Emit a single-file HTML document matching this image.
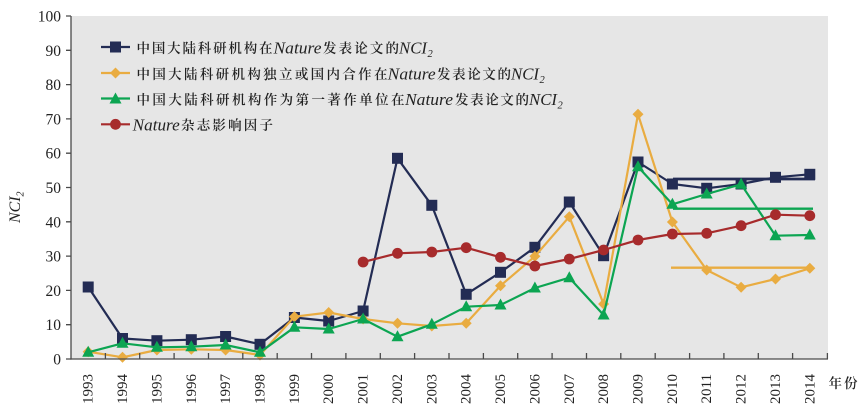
<!DOCTYPE html>
<html><head><meta charset="utf-8">
<style>
html,body{margin:0;padding:0;background:#fff;}
svg{display:block;}
.t{font-family:"Liberation Serif","Noto Serif CJK SC",serif;fill:#222;}
.c{font-family:"Noto Serif CJK SC","Noto Sans CJK SC",serif;fill:#222;font-weight:600;}
.i{font-family:"Liberation Serif",serif;font-style:italic;fill:#222;}
</style></head>
<body>
<svg width="862" height="418" viewBox="0 0 862 418" xmlns="http://www.w3.org/2000/svg">
<defs>
<rect id="sq" x="-5.5" y="-5.5" width="11" height="11" fill="#232c54"/>
<polygon id="dm" points="0,-5.5 5.5,0 0,5.5 -5.5,0" fill="#e9ac41"/>
<polygon id="tr" points="0,-6.5 6,4.5 -6,4.5" fill="#0ca552"/>
<circle id="ci" r="5.4" fill="#a72b2c"/>
</defs>
<rect x="71" y="16" width="757" height="343" fill="#e6e6e6"/>

<!-- legend -->
<line x1="101" y1="47" x2="130" y2="47" stroke="#232c54" stroke-width="2.2"/>
<use href="#sq" x="115.5" y="47"/>
<line x1="101" y1="73" x2="130" y2="73" stroke="#e9ac41" stroke-width="2.2"/>
<use href="#dm" x="115.5" y="73"/>
<line x1="101" y1="98.5" x2="130" y2="98.5" stroke="#0ca552" stroke-width="2.2"/>
<use href="#tr" x="115.5" y="99"/>
<line x1="101" y1="124.3" x2="130" y2="124.3" stroke="#a72b2c" stroke-width="2.2"/>
<use href="#ci" x="115.5" y="124.3"/>

<text class="c" x="136.5" y="53" font-size="13.5" textLength="136" lengthAdjust="spacing">中国大陆科研机构在</text>
<text class="i" x="273.5" y="53.3" font-size="17" textLength="48" lengthAdjust="spacingAndGlyphs">Nature</text>
<text class="c" x="323" y="53" font-size="13.5" textLength="76" lengthAdjust="spacing">发表论文的</text>
<text class="i" x="399" y="53.3" font-size="17" textLength="28" lengthAdjust="spacingAndGlyphs">NCI</text>
<text class="i" x="427.5" y="57" font-size="10.5">2</text>

<text class="c" x="136.5" y="79" font-size="13.5" textLength="251" lengthAdjust="spacing">中国大陆科研机构独立或国内合作在</text>
<text class="i" x="387.7" y="79.3" font-size="17" textLength="48" lengthAdjust="spacingAndGlyphs">Nature</text>
<text class="c" x="437" y="79" font-size="13.5" textLength="74" lengthAdjust="spacing">发表论文的</text>
<text class="i" x="511" y="79.3" font-size="17" textLength="28" lengthAdjust="spacingAndGlyphs">NCI</text>
<text class="i" x="539.5" y="83" font-size="10.5">2</text>

<text class="c" x="136.5" y="104.5" font-size="13.5" textLength="268" lengthAdjust="spacing">中国大陆科研机构作为第一著作单位在</text>
<text class="i" x="405" y="104.8" font-size="17" textLength="48" lengthAdjust="spacingAndGlyphs">Nature</text>
<text class="c" x="455" y="104.5" font-size="13.5" textLength="74" lengthAdjust="spacing">发表论文的</text>
<text class="i" x="529" y="104.8" font-size="17" textLength="28" lengthAdjust="spacingAndGlyphs">NCI</text>
<text class="i" x="557.5" y="108.5" font-size="10.5">2</text>

<text class="i" x="132.7" y="130.5" font-size="17" textLength="47" lengthAdjust="spacingAndGlyphs">Nature</text>
<text class="c" x="181" y="130.2" font-size="13.5" textLength="92" lengthAdjust="spacing">杂志影响因子</text>

<!-- trend lines -->
<line x1="673" y1="179" x2="815" y2="179" stroke="#232c54" stroke-width="2.8"/>
<line x1="673" y1="208.7" x2="813" y2="208.7" stroke="#0ca552" stroke-width="2.4"/>
<line x1="671" y1="267.7" x2="813" y2="267.7" stroke="#e9ac41" stroke-width="2.4"/>

<!-- navy series -->
<polyline fill="none" stroke="#232c54" stroke-width="2.2" stroke-linejoin="round" points="88.2,287 122.5,338.5 156.9,340.7 191.3,339.7 225.6,336.5 260,344.3 294.4,317.5 328.7,321 363.1,311 397.5,158.3 431.8,205.3 466.2,294.3 500.5,272.3 534.9,247.3 569.3,202 603.6,255.7 638,162 672.4,184 706.7,188.3 741.1,184 775.5,177.3 809.8,174.3"/>
<use href="#sq" x="88.2" y="287"/><use href="#sq" x="122.5" y="338.5"/><use href="#sq" x="156.9" y="340.7"/><use href="#sq" x="191.3" y="339.7"/><use href="#sq" x="225.6" y="336.5"/><use href="#sq" x="260" y="344.3"/><use href="#sq" x="294.4" y="317.5"/><use href="#sq" x="328.7" y="321"/><use href="#sq" x="363.1" y="311"/><use href="#sq" x="397.5" y="158.3"/><use href="#sq" x="431.8" y="205.3"/><use href="#sq" x="466.2" y="294.3"/><use href="#sq" x="500.5" y="272.3"/><use href="#sq" x="534.9" y="247.3"/><use href="#sq" x="569.3" y="202"/><use href="#sq" x="603.6" y="255.7"/><use href="#sq" x="638" y="162"/><use href="#sq" x="672.4" y="184"/><use href="#sq" x="706.7" y="188.3"/><use href="#sq" x="741.1" y="184"/><use href="#sq" x="775.5" y="177.3"/><use href="#sq" x="809.8" y="174.3"/>

<!-- orange series -->
<polyline fill="none" stroke="#e9ac41" stroke-width="2.2" stroke-linejoin="round" points="88.2,351.7 122.5,357.3 156.9,350 191.3,349.3 225.6,350 260,355 294.4,316.7 328.7,312.5 363.1,319 397.5,323.3 431.8,326 466.2,323.3 500.5,285.7 534.9,256.3 569.3,216.7 603.6,304 638,114.3 672.4,222 706.7,270 741.1,287.3 775.5,279 809.8,268.3"/>
<use href="#dm" x="88.2" y="351.7"/><use href="#dm" x="122.5" y="357.3"/><use href="#dm" x="156.9" y="350"/><use href="#dm" x="191.3" y="349.3"/><use href="#dm" x="225.6" y="350"/><use href="#dm" x="260" y="355"/><use href="#dm" x="294.4" y="316.7"/><use href="#dm" x="328.7" y="312.5"/><use href="#dm" x="363.1" y="319"/><use href="#dm" x="397.5" y="323.3"/><use href="#dm" x="431.8" y="326"/><use href="#dm" x="466.2" y="323.3"/><use href="#dm" x="500.5" y="285.7"/><use href="#dm" x="534.9" y="256.3"/><use href="#dm" x="569.3" y="216.7"/><use href="#dm" x="603.6" y="304"/><use href="#dm" x="638" y="114.3"/><use href="#dm" x="672.4" y="222"/><use href="#dm" x="706.7" y="270"/><use href="#dm" x="741.1" y="287.3"/><use href="#dm" x="775.5" y="279"/><use href="#dm" x="809.8" y="268.3"/>

<!-- green series -->
<polyline fill="none" stroke="#0ca552" stroke-width="2.2" stroke-linejoin="round" points="88.2,352.3 122.5,343.3 156.9,347.3 191.3,346.7 225.6,345 260,352.3 294.4,327.3 328.7,329 363.1,319 397.5,336.7 431.8,324.3 466.2,306.7 500.5,305 534.9,288 569.3,277.7 603.6,315 638,166.7 672.4,204.3 706.7,194 741.1,184.3 775.5,235.7 809.8,235"/>
<use href="#tr" x="88.2" y="352.3"/><use href="#tr" x="122.5" y="343.3"/><use href="#tr" x="156.9" y="347.3"/><use href="#tr" x="191.3" y="346.7"/><use href="#tr" x="225.6" y="345"/><use href="#tr" x="260" y="352.3"/><use href="#tr" x="294.4" y="327.3"/><use href="#tr" x="328.7" y="329"/><use href="#tr" x="363.1" y="319"/><use href="#tr" x="397.5" y="336.7"/><use href="#tr" x="431.8" y="324.3"/><use href="#tr" x="466.2" y="306.7"/><use href="#tr" x="500.5" y="305"/><use href="#tr" x="534.9" y="288"/><use href="#tr" x="569.3" y="277.7"/><use href="#tr" x="603.6" y="315"/><use href="#tr" x="638" y="166.7"/><use href="#tr" x="672.4" y="204.3"/><use href="#tr" x="706.7" y="194"/><use href="#tr" x="741.1" y="184.3"/><use href="#tr" x="775.5" y="235.7"/><use href="#tr" x="809.8" y="235"/>

<!-- red series -->
<polyline fill="none" stroke="#a72b2c" stroke-width="2.2" stroke-linejoin="round" points="363.1,262 397.5,253.3 431.8,252 466.2,247.7 500.5,257.3 534.9,266 569.3,259 603.6,250 638,240 672.4,234 706.7,233.3 741.1,225.7 775.5,214.7 809.8,215.7"/>
<use href="#ci" x="363.1" y="262"/><use href="#ci" x="397.5" y="253.3"/><use href="#ci" x="431.8" y="252"/><use href="#ci" x="466.2" y="247.7"/><use href="#ci" x="500.5" y="257.3"/><use href="#ci" x="534.9" y="266"/><use href="#ci" x="569.3" y="259"/><use href="#ci" x="603.6" y="250"/><use href="#ci" x="638" y="240"/><use href="#ci" x="672.4" y="234"/><use href="#ci" x="706.7" y="233.3"/><use href="#ci" x="741.1" y="225.7"/><use href="#ci" x="775.5" y="214.7"/><use href="#ci" x="809.8" y="215.7"/>

<!-- axes -->
<g stroke="#4a4a4a" stroke-width="1.3" fill="none">
<line x1="71" y1="16" x2="71" y2="359.6"/>
<line x1="70.4" y1="359" x2="828" y2="359"/>
<path d="M66,359H71M66,324.7H71M66,290.4H71M66,256.1H71M66,221.8H71M66,187.5H71M66,153.2H71M66,118.9H71M66,84.6H71M66,50.3H71M66,16H71"/>
<path d="M105.4,353V359M139.7,353V359M174.1,353V359M208.5,353V359M242.8,353V359M277.2,353V359M311.5,353V359M345.9,353V359M380.3,353V359M414.6,353V359M449,353V359M483.4,353V359M517.7,353V359M552.1,353V359M586.5,353V359M620.8,353V359M655.2,353V359M689.6,353V359M723.9,353V359M758.3,353V359M792.6,353V359M827.4,353V359"/>
</g>

<!-- y labels -->
<g class="t" font-size="15.5" text-anchor="end">
<text x="61" y="364.5">0</text>
<text x="61" y="330.2">10</text>
<text x="61" y="295.9">20</text>
<text x="61" y="261.6">30</text>
<text x="61" y="227.3">40</text>
<text x="61" y="193">50</text>
<text x="61" y="158.7">60</text>
<text x="61" y="124.4">70</text>
<text x="61" y="90.1">80</text>
<text x="61" y="55.8">90</text>
<text x="61" y="21.5">100</text>
</g>

<!-- x labels -->
<g class="t" font-size="15" text-anchor="end">
<text transform="translate(92.7,374) rotate(-90)">1993</text>
<text transform="translate(127,374) rotate(-90)">1994</text>
<text transform="translate(161.4,374) rotate(-90)">1995</text>
<text transform="translate(195.8,374) rotate(-90)">1996</text>
<text transform="translate(230.1,374) rotate(-90)">1997</text>
<text transform="translate(264.5,374) rotate(-90)">1998</text>
<text transform="translate(298.9,374) rotate(-90)">1999</text>
<text transform="translate(333.2,374) rotate(-90)">2000</text>
<text transform="translate(367.6,374) rotate(-90)">2001</text>
<text transform="translate(402,374) rotate(-90)">2002</text>
<text transform="translate(436.3,374) rotate(-90)">2003</text>
<text transform="translate(470.7,374) rotate(-90)">2004</text>
<text transform="translate(505,374) rotate(-90)">2005</text>
<text transform="translate(539.4,374) rotate(-90)">2006</text>
<text transform="translate(573.8,374) rotate(-90)">2007</text>
<text transform="translate(608.1,374) rotate(-90)">2008</text>
<text transform="translate(642.5,374) rotate(-90)">2009</text>
<text transform="translate(676.9,374) rotate(-90)">2010</text>
<text transform="translate(711.2,374) rotate(-90)">2011</text>
<text transform="translate(745.6,374) rotate(-90)">2012</text>
<text transform="translate(780,374) rotate(-90)">2013</text>
<text transform="translate(814.3,374) rotate(-90)">2014</text>
</g>
<text class="c" x="828.5" y="388" font-size="13.5" textLength="29" lengthAdjust="spacing">年份</text>

<!-- y title -->
<g transform="translate(19.8,223) rotate(-90)">
<text class="i" x="0" y="0" font-size="16" textLength="26.5" lengthAdjust="spacingAndGlyphs">NCI</text>
<text class="i" x="26.5" y="3.5" font-size="10">2</text>
</g>
</svg>
</body></html>
